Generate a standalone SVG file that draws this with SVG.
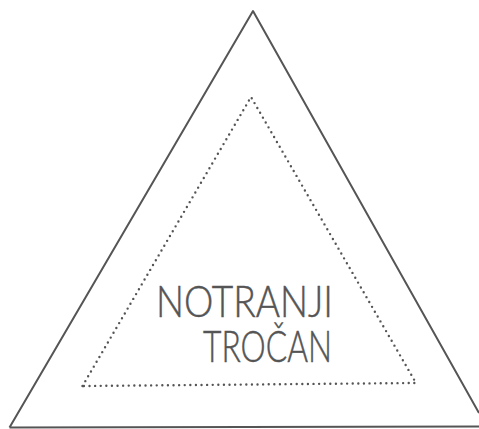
<svg xmlns="http://www.w3.org/2000/svg" width="479" height="429" viewBox="0 0 479 429">
<style>
.outer{fill:none;stroke:#555;stroke-width:2;stroke-linejoin:round}
.inner{fill:none;stroke:#555;stroke-width:2.4;stroke-linecap:round;stroke-dasharray:0 5.6}
.lbl{font-family:Lato,"Liberation Sans",sans-serif;font-weight:300;font-size:44px;fill:#555;stroke:#555;stroke-width:0.5}
</style>
<rect width="479" height="429" fill="#fff"/>
<g id="outer-triangle">
<path class="outer" d="M9.5,427.5 L253,11 L479,413 M9.5,427.5 L479,426.5"/>
</g>
<g id="inner-triangle">
<path class="inner" d="M82.5,386 L251,97 L416,383 Z"/>
</g>
<g id="label">
<text class="lbl" x="156" y="317" textLength="177" lengthAdjust="spacingAndGlyphs">NOTRANJI</text>
<text class="lbl" x="203" y="362" textLength="129" lengthAdjust="spacingAndGlyphs">TROČAN</text>
</g>
</svg>
